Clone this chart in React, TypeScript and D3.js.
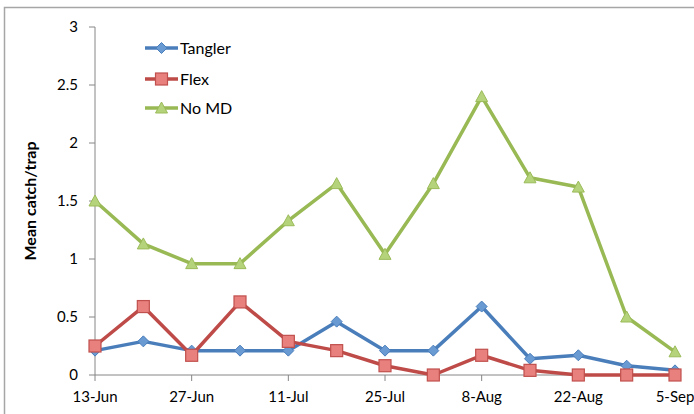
import React from 'react';
import * as d3 from 'd3';

const dates = ['13-Jun','20-Jun','27-Jun','4-Jul','11-Jul','18-Jul','25-Jul','1-Aug','8-Aug','15-Aug','22-Aug','29-Aug','5-Sep'];
const tangler = [0.21,0.29,0.21,0.21,0.21,0.46,0.21,0.21,0.59,0.14,0.17,0.08,0.04];
const flex = [0.25,0.59,0.17,0.63,0.29,0.21,0.08,0,0.17,0.04,0,0,0];
const noMD = [1.5,1.13,0.96,0.96,1.33,1.65,1.04,1.65,2.4,1.7,1.62,0.5,0.2];
const yTicks = [0,0.5,1,1.5,2,2.5,3];
const xLabels = ['13-Jun','27-Jun','11-Jul','25-Jul','8-Aug','22-Aug','5-Sep'];

const seriesDefs = [
  { name: 'Tangler', values: tangler, color: '#4A7EBB', fill: '#6A9AD2', stroke: '#4A7EBB', marker: 'diamond' },
  { name: 'Flex', values: flex, color: '#BE4B48', fill: '#E8807E', stroke: '#C0504D', marker: 'square' },
  { name: 'No MD', values: noMD, color: '#98B954', fill: '#B5D37A', stroke: '#9BBB59', marker: 'triangle' },
];

const FONT = 'Lato, "Open Sans", sans-serif';

function Marker({ type, x, y, fill, stroke }: any) {
  if (type === 'diamond') {
    return <path d={`M${x},${y - 5.5}L${x + 5.5},${y}L${x},${y + 5.5}L${x - 5.5},${y}Z`} fill={fill} stroke={stroke} strokeWidth={1} />;
  }
  if (type === 'square') {
    return <rect x={x - 6} y={y - 6} width={12} height={12} fill={fill} stroke={stroke} strokeWidth={1.2} />;
  }
  return <path d={`M${x},${y - 6}L${x + 6},${y + 5}L${x - 6},${y + 5}Z`} fill={fill} stroke={stroke} strokeWidth={1} />;
}

export default function App() {
  const x = d3.scalePoint<string>().domain(dates).range([95, 675]);
  const y = d3.scaleLinear().domain([0, 3]).range([375, 27]);
  const line = d3.line<number>().x((_, i) => x(dates[i]) as number).y(d => y(d));

  return (
    <svg width={694} height={414} style={{ position: 'absolute', left: 0, top: 0, background: '#fff' }}>
      <rect x={4.5} y={7.5} width={700} height={420} fill="none" stroke="#A6A6A6" strokeWidth={1.5} />
      {/* y axis */}
      <line x1={95} x2={95} y1={y(3)} y2={y(0)} stroke="#868686" strokeWidth={1} />
      {yTicks.map(t => (
        <g key={t}>
          <line x1={89} x2={95} y1={y(t)} y2={y(t)} stroke="#868686" />
          <text x={78} y={y(t)} dy="0.35em" textAnchor="end" fontFamily={FONT} fontSize={15} fill="#000">{t}</text>
        </g>
      ))}
      {/* x axis */}
      <line x1={95} x2={675} y1={y(0)} y2={y(0)} stroke="#868686" strokeWidth={1} />
      {xLabels.map(l => (
        <g key={l}>
          <line x1={x(l)} x2={x(l)} y1={y(0)} y2={y(0) + 6} stroke="#868686" />
          <text x={x(l)} y={397} dy="0.35em" textAnchor="middle" fontFamily={FONT} fontSize={15} fill="#000">{l}</text>
        </g>
      ))}
      <text transform="translate(30,201) rotate(-90)" textAnchor="middle" dy="0.35em" fontFamily={FONT} fontWeight="bold" fontSize={16} fill="#000">Mean catch/trap</text>
      {seriesDefs.map(s => (
        <g key={s.name}>
          <path d={line(s.values) || ''} fill="none" stroke={s.color} strokeWidth={3.5} strokeLinejoin="round" />
          {s.values.map((v, i) => (
            <Marker key={i} type={s.marker} x={x(dates[i])} y={y(v)} fill={s.fill} stroke={s.stroke} />
          ))}
        </g>
      ))}
      {/* legend */}
      {seriesDefs.map((s, i) => {
        const ly = [48, 79, 108][i];
        return (
          <g key={s.name}>
            <line x1={145} x2={178} y1={ly} y2={ly} stroke={s.color} strokeWidth={3.5} />
            <Marker type={s.marker} x={161.5} y={ly} fill={s.fill} stroke={s.stroke} />
            <text x={180} y={ly} dy="0.35em" fontFamily={FONT} fontSize={16} fill="#000">{s.name}</text>
          </g>
        );
      })}
    </svg>
  );
}
